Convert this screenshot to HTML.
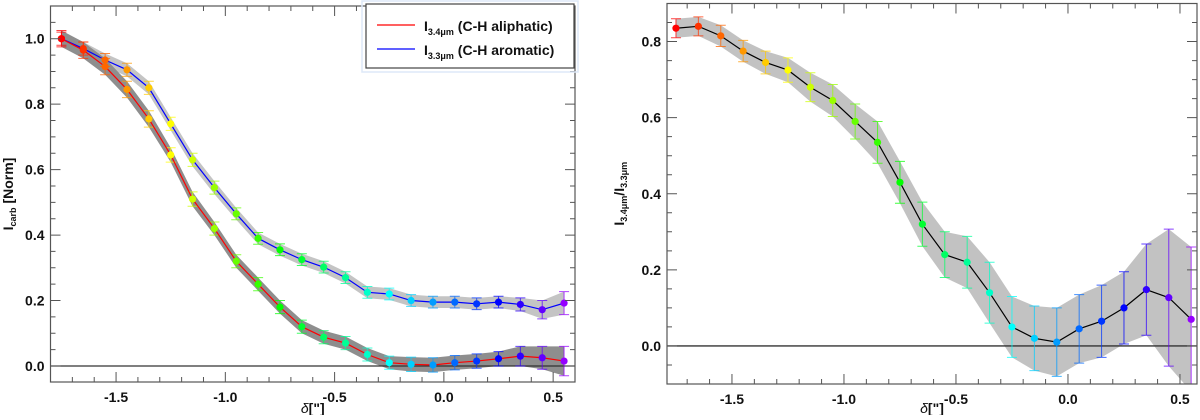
<!DOCTYPE html>
<html><head><meta charset="utf-8"><style>
body{margin:0;background:#fff;width:1200px;height:415px;overflow:hidden}
svg{font-family:"Liberation Sans","DejaVu Sans",sans-serif;font-weight:bold}
</style></head><body>
<svg id="c" width="1200" height="415"></svg>
<script>
const xs=[-1.75,-1.65,-1.55,-1.45,-1.35,-1.25,-1.15,-1.05,-0.95,-0.85,-0.75,-0.65,-0.55,-0.45,-0.35,-0.25,-0.15,-0.05,0.05,0.15,0.25,0.35,0.45,0.55];
const aliphatic=[1.0,0.965,0.915,0.845,0.755,0.645,0.51,0.42,0.32,0.25,0.18,0.12,0.088,0.07,0.035,0.01,0.005,0.003,0.01,0.015,0.022,0.03,0.025,0.015];
const aliphaticErr=[0.025,0.025,0.025,0.025,0.025,0.022,0.022,0.02,0.02,0.02,0.02,0.02,0.02,0.02,0.02,0.02,0.022,0.022,0.022,0.022,0.022,0.03,0.035,0.045];
const aromatic=[1.0,0.97,0.935,0.905,0.85,0.74,0.63,0.545,0.465,0.39,0.355,0.325,0.302,0.27,0.225,0.22,0.2,0.195,0.195,0.19,0.195,0.188,0.172,0.192];
const aromaticErr=[0.02,0.02,0.02,0.02,0.02,0.02,0.02,0.02,0.018,0.018,0.018,0.018,0.018,0.018,0.018,0.018,0.018,0.018,0.018,0.018,0.018,0.02,0.028,0.035];
const ratio=[0.835,0.84,0.815,0.775,0.745,0.725,0.68,0.645,0.59,0.535,0.43,0.32,0.24,0.22,0.14,0.05,0.02,0.01,0.045,0.065,0.1,0.148,0.127,0.07];
const ratioErr=[0.025,0.025,0.028,0.028,0.03,0.032,0.038,0.042,0.046,0.055,0.055,0.058,0.06,0.068,0.08,0.08,0.085,0.09,0.09,0.095,0.095,0.12,0.18,0.19];
const xTicks=[-1.5,-1.0,-0.5,0.0,0.5];
const yTicksL=[0.0,0.2,0.4,0.6,0.8,1.0];
const yTicksR=[0.0,0.2,0.4,0.6,0.8];

const svg=document.getElementById('c');
const NS='http://www.w3.org/2000/svg';
function mk(t,a,p){const e=document.createElementNS(NS,t);for(const k in a)e.setAttribute(k,a[k]);(p||svg).appendChild(e);return e;}
function col(i){return 'hsl('+(i/(xs.length-1)*275)+',100%,50%)';}
function f1(v){return v.toFixed(1);}

function panel(P){
  const g=mk('g',{});
  
  
  const X=v=>P.x0+(v-P.xmin)/(P.xmax-P.xmin)*(P.x1-P.x0);
  const Y=v=>P.y1-(v-P.ymin)/(P.ymax-P.ymin)*(P.y1-P.y0);
  const clip='clip'+P.name;
  const cp=mk('clipPath',{id:clip},g);mk('rect',{x:P.x0,y:P.y0,width:P.x1-P.x0,height:P.y1-P.y0},cp);
  const pg=mk('g',{'clip-path':'url(#'+clip+')'},g);
  P.series.forEach(s=>{
    let up=xs.map((x,i)=>X(x)+','+Y(s.v[i]+s.band[i]));
    let dn=xs.map((x,i)=>X(x)+','+Y(s.v[i]-s.band[i])).reverse();
    const b=mk('polygon',{points:up.concat(dn).join(' '),fill:s.bandColor},pg);
    
    
  });
  const z=mk('line',{x1:P.x0,x2:P.x1,y1:Y(0),y2:Y(0),stroke:'#333','stroke-width':1.3},pg);
  
  
  P.series.forEach(s=>{
    xs.forEach((x,i)=>{
      const cx=X(x),a=Y(s.v[i]+s.err[i]),b=Y(s.v[i]-s.err[i]);
      const e=mk('path',{d:`M${cx-5},${a}H${cx+5}M${cx},${a}V${b}M${cx-5},${b}H${cx+5}`,stroke:col(i),'stroke-width':1,fill:'none',opacity:0.75},pg);
      
      
    });
    const l=mk('polyline',{points:xs.map((x,i)=>X(x)+','+Y(s.v[i])).join(' '),fill:'none',stroke:s.color,'stroke-width':1.2},pg);
    
    
    xs.forEach((x,i)=>{
      const c=mk('circle',{cx:X(x),cy:Y(s.v[i]),r:3.6,fill:col(i)},pg);
      
      
    });
  });
  const fr=mk('rect',{x:P.x0,y:P.y0,width:P.x1-P.x0,height:P.y1-P.y0,fill:'none',stroke:'#555','stroke-width':1.2},g);
  
  
  for(let k=Math.ceil(P.xmin*10);k<=P.xmax*10;k++){
    const v=k/10,x=X(v),major=Math.abs(k%5)===0,L=major?10:5;
    mk('path',{d:`M${x},${P.y1}v${-L}M${x},${P.y0}v${L}`,stroke:'#555','stroke-width':1},g);
  }
  xTicks.forEach(v=>{
    const t=mk('text',{x:X(v),y:P.y1+20,'text-anchor':'middle','font-size':14,fill:'#111'},g);
    t.textContent=f1(v);
    
    
  });
  for(let k=Math.ceil(P.ymin*20);k<=P.ymax*20;k++){
    const v=k/20,y=Y(v),major=k%4===0,L=major?10:5;
    mk('path',{d:`M${P.x0},${y}h${L}M${P.x1},${y}h${-L}`,stroke:'#555','stroke-width':1},g);
  }
  P.yTicks.forEach(v=>{
    const t=mk('text',{x:P.x0-6,y:Y(v)+5,'text-anchor':'end','font-size':14,fill:'#111'},g);
    t.textContent=f1(v);
    
    
  });
  const xl=mk('text',{x:(P.x0+P.x1)/2,y:413,'text-anchor':'middle','font-size':14,fill:'#111'},g);
  xl.innerHTML='<tspan font-style="italic" font-weight="normal">δ</tspan>["]';
  
  
  const yl=mk('text',{transform:`translate(${P.ylx},${(P.y0+P.y1)/2}) rotate(-90)`,'text-anchor':'middle','font-size':14,fill:'#111'},g);
  yl.innerHTML=P.ylabel;
  
  
  return {X,Y,g};
}

panel({name:'intensity-panel',x0:50.5,x1:575,y0:6,y1:382,xmin:-1.80,xmax:0.60,ymin:-0.049,ymax:1.10,yTicks:yTicksL,ylx:13,
  ylabel:'I<tspan font-size="9" dy="3">carb</tspan><tspan dy="-3"> [Norm]</tspan>',
  series:[
    {id:'aromatic',v:aromatic,err:aromaticErr,band:aromaticErr.map(e=>e),color:'#0000ff',bandColor:'#c4c4c4'},
    {id:'aliphatic',v:aliphatic,err:aliphaticErr,band:aliphaticErr.map(e=>e),color:'#ff0000',bandColor:'#8e8e8e'}
  ]});
panel({name:'ratio-panel',x0:667,x1:1197,y0:3.5,y1:384,xmin:-1.79,xmax:0.576,ymin:-0.1,ymax:0.90,yTicks:yTicksR,ylx:624,
  ylabel:'I<tspan font-size="9" dy="3">3.4μm</tspan><tspan dy="-3">/I</tspan><tspan font-size="9" dy="3">3.3μm</tspan>',
  series:[{id:'ratio',v:ratio,err:ratioErr,band:ratioErr,color:'#000',bandColor:'#c2c2c2'}]});

const lg=mk('g',{});


mk('rect',{x:362,y:1,width:216,height:71,fill:'none',stroke:'#dde8f8','stroke-width':1.5},lg);
mk('rect',{x:366,y:4,width:208,height:64,fill:'#fff',stroke:'#444','stroke-width':1.2},lg);
const e1=mk('g',{},lg);


mk('line',{x1:377,x2:415,y1:25,y2:25,stroke:'#ff0000','stroke-width':1.2},e1);
const t1=mk('text',{x:424,y:31,'font-size':14,fill:'#111'},e1);
t1.innerHTML='I<tspan font-size="9" dy="4">3.4μm</tspan><tspan dy="-4"> (C-H aliphatic)</tspan>';
const e2=mk('g',{},lg);


mk('line',{x1:377,x2:415,y1:49,y2:49,stroke:'#0000ff','stroke-width':1.2},e2);
const t2=mk('text',{x:424,y:55,'font-size':14,fill:'#111'},e2);
t2.innerHTML='I<tspan font-size="9" dy="4">3.3μm</tspan><tspan dy="-4"> (C-H aromatic)</tspan>';
</script>
</body></html>
